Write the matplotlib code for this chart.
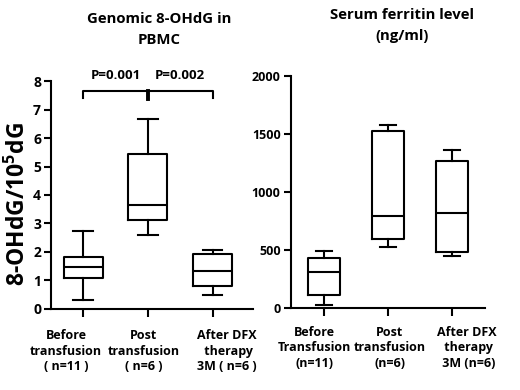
import matplotlib
matplotlib.use('Agg')
import matplotlib.pyplot as plt
import matplotlib.transforms as mtransforms

plt.rcParams['font.family'] = ['Open Sans', 'DejaVu Sans']
plt.rcParams['font.weight'] = 'bold'
plt.rcParams['axes.titleweight'] = 'bold'
plt.rcParams['axes.labelweight'] = 'bold'
plt.rcParams['mathtext.default'] = 'regular'

# datos (resumen de 5 numeros de cada grupo)
grupos_ohdg = ['Before\ntransfusion\n( n=11 )', 'Post\ntransfusion\n( n=6 )', 'After DFX\n therapy\n3M ( n=6 )']
ohdg_min = [0.33, 2.59, 0.48]
ohdg_q1 = [1.09, 3.14, 0.80]
ohdg_med = [1.48, 3.64, 1.35]
ohdg_q3 = [1.82, 5.44, 1.93]
ohdg_max = [2.75, 6.66, 2.08]
pvalores = ['P=0.001', 'P=0.002']

grupos_ferr = ['Before\nTransfusion\n(n=11)', 'Post\ntransfusion\n(n=6)', 'After DFX\n therapy\n 3M (n=6)']
ferr_min = [22, 523, 445]
ferr_q1 = [109, 589, 483]
ferr_med = [310, 787, 813]
ferr_q3 = [425, 1523, 1261]
ferr_max = [486, 1578, 1359]


def armar_stats(mins, q1s, meds, q3s, maxs):
    stats = []
    for i in range(len(mins)):
        stats.append({'whislo': mins[i], 'q1': q1s[i], 'med': meds[i],
                      'q3': q3s[i], 'whishi': maxs[i], 'fliers': []})
    return stats


def estilo(ax, tam, pad_x):
    for lado in ['top', 'right']:
        ax.spines[lado].set_visible(False)
    for lado in ['left', 'bottom']:
        ax.spines[lado].set_linewidth(1.5)
    ax.tick_params(width=1.5, length=5, direction='out')
    ax.tick_params(axis='y', labelsize=tam, pad=2.5)
    ax.tick_params(axis='x', length=6, pad=pad_x, labelsize=9)


fig = plt.figure(figsize=(5.2, 3.9), dpi=100)
lin = dict(color='black', linewidth=1.5)

# panel izquierdo
ax1 = fig.add_axes([0.099, 0.2077, 0.387, 0.5846])
ax1.bxp(armar_stats(ohdg_min, ohdg_q1, ohdg_med, ohdg_q3, ohdg_max), positions=[1, 2, 3],
        widths=0.6, showfliers=False, boxprops=lin, whiskerprops=lin, capprops=lin,
        medianprops=lin)
ax1.set_xlim(0.51, 3.62)
ax1.set_ylim(0, 8)
ax1.set_yticks(range(0, 9))
ax1.set_xticks([1, 2, 3])
ax1.set_xticklabels(grupos_ohdg)
estilo(ax1, 10, 8.5)
ax1.set_ylabel('8-OHdG/10$^5$dG', fontsize=16.5)
ax1.yaxis.set_label_coords(-0.1, 0.46)
ax1.set_title('Genomic 8-OHdG in\nPBMC', fontsize=10.7, pad=27, linespacing=1.6, x=0.534)

# llave con valores P
yb, yt = 7.4, 7.65
ax1.plot([1, 1, 2, 2], [yb, yt, yt, yb], clip_on=False, **lin)
ax1.plot([2, 2, 3, 3], [yb, yt, yt, yb], clip_on=False, **lin)
ax1.plot([2, 2], [yb - 0.02, yt], color='black', linewidth=2.8, clip_on=False)
ax1.text(1.5, 8.21, pvalores[0], ha='center', va='center', fontsize=9.5)
ax1.text(2.5, 8.21, pvalores[1], ha='center', va='center', fontsize=9.5)

# panel derecho
ax2 = fig.add_axes([0.5596, 0.211, 0.373, 0.595])
ax2.bxp(armar_stats(ferr_min, ferr_q1, ferr_med, ferr_q3, ferr_max), positions=[1, 2, 3],
        widths=0.5, showfliers=False, boxprops=lin, whiskerprops=lin, capprops=lin,
        medianprops=lin)
ax2.set_xlim(0.49, 3.51)
ax2.set_ylim(0, 2000)
ax2.set_yticks([0, 500, 1000, 1500, 2000])
ax2.set_xticks([1, 2, 3])
ax2.set_xticklabels(grupos_ferr)
estilo(ax2, 9, 7)
ax2.set_title('Serum ferritin level\n(ng/ml)', fontsize=10.7, pad=26, linespacing=1.6, x=0.572)

# corrimiento horizontal de las etiquetas (en pixeles)
corrimientos = [(ax1, [-17, -4.5, 14]), (ax2, [-9, 2, 15])]
for ax, dxs in corrimientos:
    for etiqueta, dx in zip(ax.get_xticklabels(), dxs):
        off = mtransforms.ScaledTranslation(dx / 100, 0, fig.dpi_scale_trans)
        etiqueta.set_transform(etiqueta.get_transform() + off)
        etiqueta.set_linespacing(1.25)

plt.savefig('out.png', dpi=100)
